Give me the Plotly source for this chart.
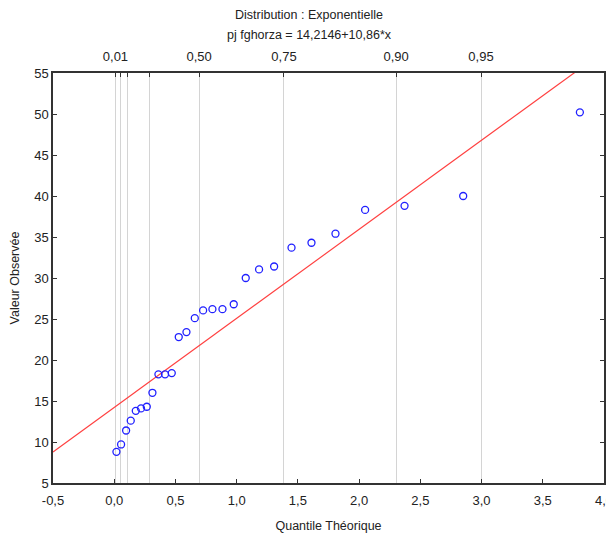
import plotly.graph_objects as go

# Theoretical quantiles (x) and observed values (y)
quantile_theo = [0.018, 0.056, 0.097, 0.135, 0.176, 0.219, 0.266, 0.312, 0.361, 0.415,
                 0.470, 0.527, 0.590, 0.658, 0.726, 0.802, 0.884, 0.976, 1.074, 1.183,
                 1.306, 1.448, 1.611, 1.807, 2.049, 2.371, 2.850, 3.803]
valeur_obs = [8.8, 9.7, 11.4, 12.6, 13.8, 14.1, 14.3, 16.0, 18.25, 18.25,
              18.4, 22.8, 23.4, 25.1, 26.05, 26.2, 26.2, 26.8, 30.0, 31.05,
              31.4, 33.7, 34.3, 35.4, 38.3, 38.8, 40.0, 50.2]

# Fit line
intercept = 14.2146
slope = 10.86
line_x = [-0.5, 4.0]
line_y = [intercept + slope * v for v in line_x]

# Top axis: probability ticks at exponential quantile positions
prob_tick_pos = [0.01005, 0.0513, 0.1054, 0.2877, 0.6931, 1.3863, 2.3026, 2.9957]
prob_tick_text = ["0,01", "", "", "", "0,50", "0,75", "0,90", "0,95"]

x_ticks = [-0.5, 0.0, 0.5, 1.0, 1.5, 2.0, 2.5, 3.0, 3.5, 4.0]
x_tick_text = ["-0,5", "0,0", "0,5", "1,0", "1,5", "2,0", "2,5", "3,0", "3,5", "4,0"]
y_ticks = [5, 10, 15, 20, 25, 30, 35, 40, 45, 50, 55]

FONT = "Liberation Sans Narrow, Liberation Sans, Arial, sans-serif"

fig = go.Figure()
fig.add_trace(go.Scatter(
    x=line_x, y=line_y, mode="lines",
    line=dict(color="#ff4040", width=1.2), showlegend=False, hoverinfo="skip"))
fig.add_trace(go.Scatter(
    x=quantile_theo, y=valeur_obs, mode="markers",
    marker=dict(symbol="circle-open", size=7, color="#2020ff", line=dict(width=1.3)),
    showlegend=False))
# invisible trace to activate top axis
fig.add_trace(go.Scatter(x=[-0.5, 4.0], y=[None, None], xaxis="x2", mode="markers",
                         showlegend=False, hoverinfo="skip"))

# page body has an 8px margin, so the figure is drawn from (8, 8)
fig.update_layout(
    width=606, height=529,
    margin=dict(l=45, r=10, t=65, b=54, autoexpand=False),
    paper_bgcolor="white", plot_bgcolor="white",
    separators=", ",
    font=dict(family=FONT, size=13, color="#222"),
    xaxis=dict(
        range=[-0.5, 4.0], tickvals=x_ticks, ticktext=x_tick_text,
        showgrid=False, zeroline=False, automargin=False,
        showline=True, linecolor="#333", linewidth=1.5, mirror=True,
        ticks="inside", ticklen=4, tickcolor="#333", ticklabelstandoff=5,
        title=dict(text="Quantile Théorique", standoff=14, font=dict(size=12.5)),
    ),
    xaxis2=dict(
        range=[-0.5, 4.0], overlaying="x", side="top", automargin=False,
        tickvals=prob_tick_pos, ticktext=prob_tick_text,
        showgrid=True, gridcolor="#d4d4d4", gridwidth=1,
        zeroline=False, showline=False,
        ticks="inside", ticklen=4, tickcolor="#333", ticklabelstandoff=8,
    ),
    yaxis=dict(
        range=[5, 55], tickvals=y_ticks,
        showgrid=False, zeroline=False, automargin=False,
        showline=True, linecolor="#333", linewidth=1.5, mirror="ticks",
        ticks="inside", ticklen=4, tickcolor="#333", ticklabelstandoff=0,
        title=dict(text="Valeur Observée", standoff=16, font=dict(size=12.5)),
    ),
    annotations=[
        dict(text="Distribution : Exponentielle", xref="paper", yref="paper",
             x=0.465, y=1, yanchor="middle", yshift=58, showarrow=False,
             font=dict(size=12.5)),
        dict(text="pj fghorza = 14,2146+10,86*x", xref="paper", yref="paper",
             x=0.465, y=1, yanchor="middle", yshift=38, showarrow=False,
             font=dict(size=12.5)),
    ],
)

fig.write_html("out.html")
